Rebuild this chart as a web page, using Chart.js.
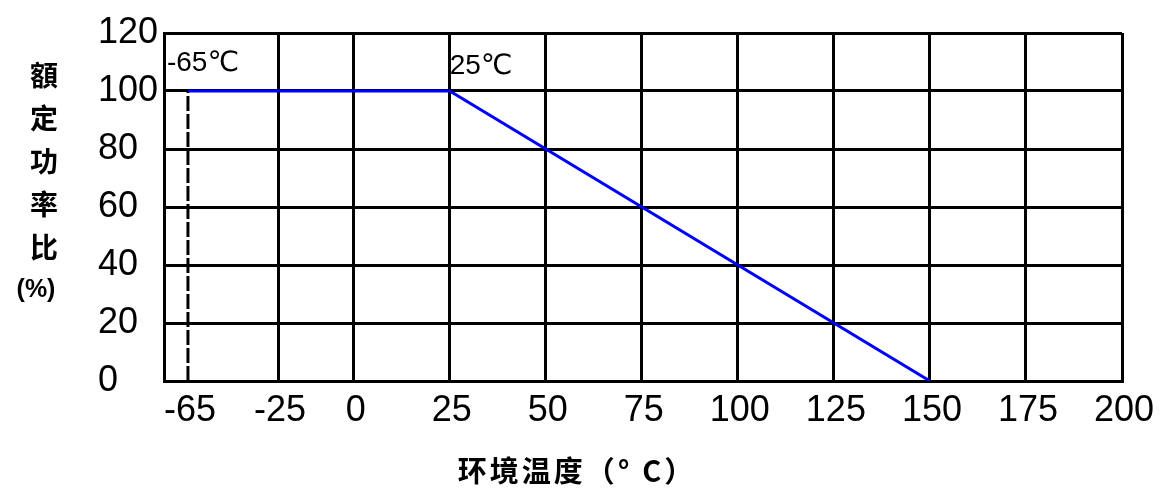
<!DOCTYPE html>
<html>
<head>
<meta charset="utf-8">
<script src="https://cdn.jsdelivr.net/npm/chart.js@4.4.1/dist/chart.umd.min.js"></script>
<style>
  html, body { margin: 0; padding: 0; background: #fff; }
  #wrap { width: 1166px; height: 491px; }
</style>
</head>
<body>
<div id="wrap"><canvas id="derating"></canvas></div>
<script>
// derating curve: rated power ratio vs ambient temperature
const temps = [-65, 25, 150];
const ratios = [100, 100, 0];
const guideTemps = [-65, -65];
const guideRatios = [0, 100];
const xTicks = [-65, -25, 0, 25, 50, 75, 100, 125, 150, 175, 200];
const yTicks = [0, 20, 40, 60, 80, 100, 120];
const pointNotes = ['-65℃', '25℃'];
const yTitleChars = ['額', '定', '功', '率', '比', '(%)'];
const xTitle = '环境温度（° C）';

// the original drawing squeezes the part below 0 degrees,
// so the x axis is linear piece by piece: [value, fraction of width]
const xStops = [[-75, 0], [-65, 0.025], [-25, 0.119], [0, 0.198], [200, 1]];

function toDecimal(v) {
  for (let i = 1; i < xStops.length; i++) {
    const [v0, d0] = xStops[i - 1];
    const [v1, d1] = xStops[i];
    if (v <= v1 || i === xStops.length - 1) {
      return d0 + (v - v0) / (v1 - v0) * (d1 - d0);
    }
  }
}
function fromDecimal(d) {
  for (let i = 1; i < xStops.length; i++) {
    const [v0, d0] = xStops[i - 1];
    const [v1, d1] = xStops[i];
    if (d <= d1 || i === xStops.length - 1) {
      return v0 + (d - d0) / (d1 - d0) * (v1 - v0);
    }
  }
}

class SegmentScale extends Chart.LinearScale {
  getPixelForValue(value) {
    if (value === null || isNaN(value)) return NaN;
    return this.getPixelForDecimal(toDecimal(value));
  }
  getValueForPixel(pixel) {
    return fromDecimal(this.getDecimalForPixel(pixel));
  }
}
SegmentScale.id = 'segment';
SegmentScale.defaults = Chart.LinearScale.defaults;
Chart.register(SegmentScale);

const textPlugin = {
  id: 'texts',
  afterDatasetsDraw(chart) {
    const ctx = chart.ctx;
    const meta = chart.getDatasetMeta(0);
    ctx.save();
    ctx.fillStyle = '#000';

    // notes at the knee points
    ctx.font = '28px "Liberation Sans", "DejaVu Sans"';
    ctx.textAlign = 'left';
    ctx.textBaseline = 'alphabetic';
    const shifts = [[-21, -20], [0, -17]];
    pointNotes.forEach((txt, i) => {
      const p = meta.data[i];
      ctx.fillText(txt, p.x + shifts[i][0], p.y + shifts[i][1]);
    });

    // y title, one character per row
    ctx.textAlign = 'center';
    ctx.textBaseline = 'middle';
    yTitleChars.forEach((ch, i) => {
      ctx.font = ch.length > 1 ? 'bold 25px "Liberation Sans"' : 'bold 28px "Noto Sans CJK SC"';
      ctx.fillText(ch, ch.length > 1 ? 36 : 44, 75 + i * 43);
    });

    // x title
    ctx.font = 'bold 29px "Noto Sans CJK SC"';
    ctx.letterSpacing = '3px';
    ctx.fillText(xTitle, 577, 471);
    ctx.restore();
  }
};

new Chart(document.getElementById('derating'), {
  type: 'scatter',
  data: {
    datasets: [{
      data: temps.map((t, i) => ({x: t, y: ratios[i]})),
      showLine: true,
      borderColor: '#0000ff',
      borderWidth: 3,
      pointRadius: 0
    }, {
      data: guideTemps.map((t, i) => ({x: t, y: guideRatios[i]})),
      showLine: true,
      borderColor: '#000',
      borderWidth: 3,
      borderDash: [15, 3],
      pointRadius: 0
    }]
  },
  options: {
    responsive: true,
    maintainAspectRatio: false,
    animation: false,
    layout: { padding: { left: 98, top: 33, right: 44, bottom: 0 } },
    plugins: {
      legend: false,
      tooltip: { enabled: false }
    },
    scales: {
      x: {
        type: 'segment',
        min: -75,
        max: 200,
        afterBuildTicks: axis => { axis.ticks = xTicks.map(v => ({value: v})); },
        afterFit: axis => { axis.height = 110; },
        grid: {
          color: c => (c.tick && c.tick.value === -65) ? 'rgba(0,0,0,0)' : '#000',
          lineWidth: 3,
          drawTicks: false
        },
        border: { color: '#000', width: 3 },
        ticks: {
          color: '#000',
          padding: 8,
          labelOffset: 2,
          maxRotation: 0,
          autoSkip: false,
          font: { family: '"Liberation Sans"', size: 36 },
          callback: v => String(v)
        }
      },
      y: {
        min: 0,
        max: 120,
        afterBuildTicks: axis => { axis.ticks = yTicks.map(v => ({value: v})); },
        afterFit: axis => { axis.width = 66; },
        grid: { color: '#000', lineWidth: 3, drawTicks: false },
        border: { color: '#000', width: 3 },
        ticks: {
          color: '#000',
          padding: 6,
          crossAlign: 'far',
          font: { family: '"Liberation Sans"', size: 36 },
          callback: v => String(v)
        }
      }
    }
  },
  plugins: [textPlugin]
});
</script>
</body>
</html>
